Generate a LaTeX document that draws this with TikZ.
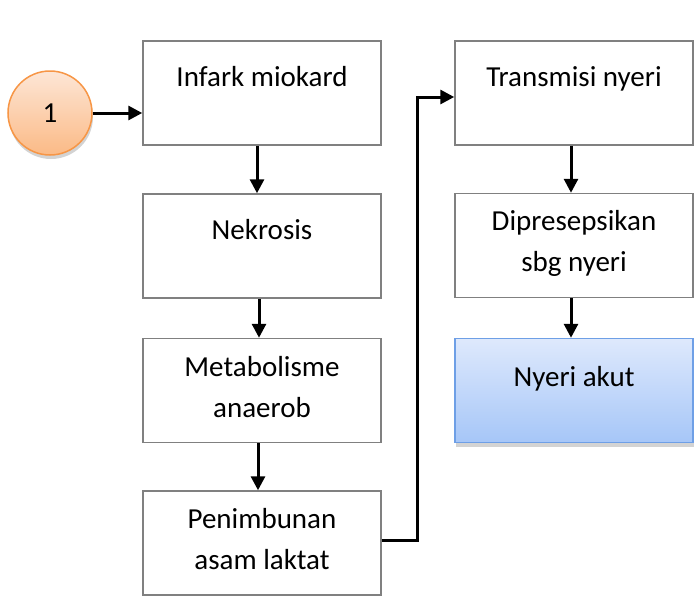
\documentclass[tikz,border=0pt]{standalone}
\usepackage{fontspec}
\setmainfont{Carlito}
\usepackage{xcolor}
\usetikzlibrary{arrows.meta}
\usetikzlibrary{shadows}

\definecolor{boxline}{HTML}{808080}
\definecolor{orangeline}{HTML}{F79646}
\definecolor{orangetop}{HTML}{FDE6D6}
\definecolor{orangebot}{HTML}{FBBA86}
\definecolor{blueline}{HTML}{6E9FE6}
\definecolor{bluetop}{HTML}{DEE9FC}
\definecolor{bluebot}{HTML}{A6C6F8}

% text of a box, pushed down from the top edge
\newcommand{\boxtxt}[2][17]{\parbox[c][104pt][t]{238pt}{\centering\vspace*{#1pt}\strut #2\strut}}

\begin{document}
\begin{tikzpicture}[x=1pt,y=-1pt]
 \tikzset{
   % plain step of the chain
   stepbox/.style={draw=boxline,line width=1.5pt,inner sep=0pt,
     font=\fontsize{29}{41}\selectfont},
   % the final diagnosis
   endbox/.style={stepbox,draw=blueline,top color=bluetop,bottom color=bluebot,
     drop shadow={shadow xshift=1pt,shadow yshift=-4pt,opacity=.35}},
   % connector circle
   conn/.style={circle,draw=orangeline,line width=1.5pt,minimum size=84pt,inner sep=0pt,
     top color=orangetop,bottom color=orangebot,font=\fontsize{29}{35}\selectfont,
     drop shadow={shadow xshift=1pt,shadow yshift=-4pt,opacity=.35}},
   arr/.style={draw,line width=3pt,-{Triangle[length=14pt,width=14pt]}},
 }
 \useasboundingbox (0,0) rectangle (698,597);

     \node[conn] (satu) at (50,113) {1};
     \node[stepbox] (infark) at (262,93) {\boxtxt{Infark miokard}};
     \node[stepbox] (nekrosis) at (262,246) {\boxtxt{Nekrosis}};
     \node[stepbox] (metabolisme) at (262,390.5) {\boxtxt[9]{Metabolisme\\anaerob}};
     \node[stepbox] (penimbunan) at (262,543) {\boxtxt[9]{Penimbunan\\asam laktat}};
     \node[stepbox] (transmisi) at (574,93) {\boxtxt{Transmisi nyeri}};
     \node[stepbox] (dipresepsi) at (574,245.5) {\boxtxt[8]{Dipresepsikan\\sbg nyeri}};
     \node[endbox] (nyeri) at (574,390.5) {\boxtxt[19]{Nyeri akut}};

     \draw[arr] (satu) -- (infark.west |- satu);
     \draw[arr] ([xshift=-5pt]infark.south) -- ([xshift=-5pt]nekrosis.north);
     \draw[arr] ([xshift=-3pt]nekrosis.south) -- ([xshift=-3pt]metabolisme.north);
     \draw[arr] ([xshift=-4pt]metabolisme.south) -- ([xshift=-4pt]penimbunan.north);
     \draw[arr] ([yshift=3pt]penimbunan.east) -- ++(36,0) |- ([yshift=-4pt]transmisi.west);
     \draw[arr] ([xshift=-3pt]transmisi.south) -- ([xshift=-3pt]dipresepsi.north);
     \draw[arr] ([xshift=-3pt]dipresepsi.south) -- ([xshift=-3pt]nyeri.north);
 \end{tikzpicture}
\end{document}
